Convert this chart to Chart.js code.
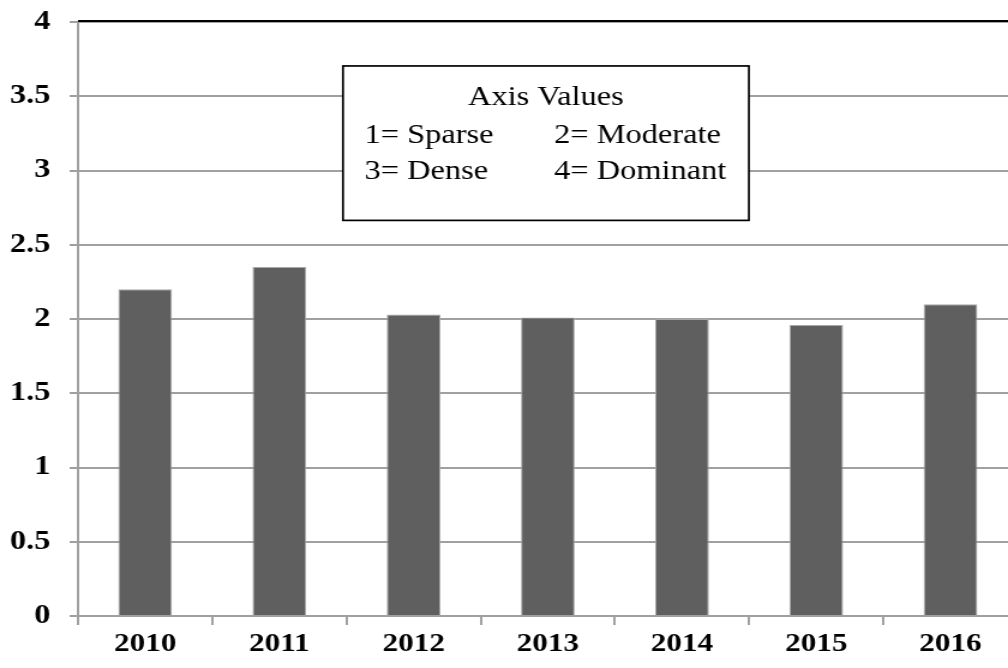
<!DOCTYPE html>
<html>
<head>
<meta charset="utf-8">
<script src="https://cdn.jsdelivr.net/npm/chart.js@4"></script>
<style>
  html, body { margin: 0; padding: 0; background: #fff; }
  #wrap { width: 1008px; height: 668px; overflow: hidden; position: relative; }
  #chart { position: absolute; left: 0; top: 0; transform: scaleX(1.2); transform-origin: 0 0; }
</style>
</head>
<body>
<div id="wrap"><canvas id="chart" width="848" height="668"></canvas></div>
<script>
const years = ['2010', '2011', '2012', '2013', '2014', '2015', '2016'];
const values = [2.2, 2.35, 2.03, 2.01, 2.0, 1.96, 2.1];
const noteTitle = 'Axis Values';
const noteRows = [['1= Sparse', '2= Moderate'], ['3= Dense', '4= Dominant']];

const serif = '"Liberation Serif", "Times New Roman", serif';
const gridGray = '#a0a0a0';

// note box + black top rule
const notePlugin = {
  id: 'note',
  afterDraw(chart) {
    const { ctx, chartArea: a } = chart;
    const w = a.right - a.left, h = a.bottom - a.top;
    ctx.save();
    ctx.strokeStyle = '#000';
    ctx.lineWidth = 2;
    ctx.beginPath();
    ctx.moveTo(a.left, a.top - 1);
    ctx.lineTo(a.right, a.top - 1);
    ctx.stroke();

    const x0 = a.left + w * 0.282, x1 = a.left + w * 0.714;
    const y0 = a.top + h * 0.074, y1 = a.top + h * 0.334;
    ctx.fillStyle = '#fff';
    ctx.fillRect(x0, y0, x1 - x0, y1 - y0);
    ctx.lineWidth = 1.7;
    ctx.strokeRect(x0, y0, x1 - x0, y1 - y0);

    ctx.fillStyle = '#000';
    ctx.font = '27px ' + serif;
    ctx.textBaseline = 'alphabetic';
    ctx.textAlign = 'center';
    ctx.fillText(noteTitle, (x0 + x1) / 2, y0 + 39);
    ctx.textAlign = 'left';
    noteRows.forEach((row, i) => {
      const y = y0 + 77 + i * 36;
      ctx.fillText(row[0], x0 + 18, y);
      ctx.fillText(row[1], x0 + 176, y);
    });
    ctx.restore();
  }
};

new Chart(document.getElementById('chart'), {
  type: 'bar',
  plugins: [notePlugin],
  data: {
    labels: years,
    datasets: [{
      data: values,
      backgroundColor: '#5f5f5f',
      borderColor: '#a8a8a8',
      borderWidth: 1,
      barPercentage: 0.5,
      categoryPercentage: 0.8
    }]
  },
  options: {
    responsive: false,
    animation: false,
    layout: { padding: { top: 22, right: 0, left: 0, bottom: 0 } },
    plugins: { legend: { display: false }, tooltip: { enabled: false } },
    scales: {
      x: {
        grid: { offset: true, drawOnChartArea: false, color: gridGray, lineWidth: 2, tickLength: 9 },
        border: { display: true, color: gridGray, width: 2 },
        ticks: { color: '#000', font: { family: serif, size: 26, weight: 'bold' }, padding: 4, maxRotation: 0 },
        afterFit(scale) { scale.height = 52; }
      },
      y: {
        min: 0,
        max: 4,
        ticks: {
          stepSize: 0.5,
          color: '#000',
          font: { family: serif, size: 27, weight: 'bold' },
          padding: 16,
          callback: (v) => String(v)
        },
        grid: { color: gridGray, lineWidth: 2, tickLength: 7 },
        border: { display: true, color: gridGray, width: 2 },
        afterFit(scale) {
          scale.width = 65;
          scale.paddingTop = 0;
          scale.paddingBottom = 0;
        }
      }
    }
  }
});
</script>
</body>
</html>
